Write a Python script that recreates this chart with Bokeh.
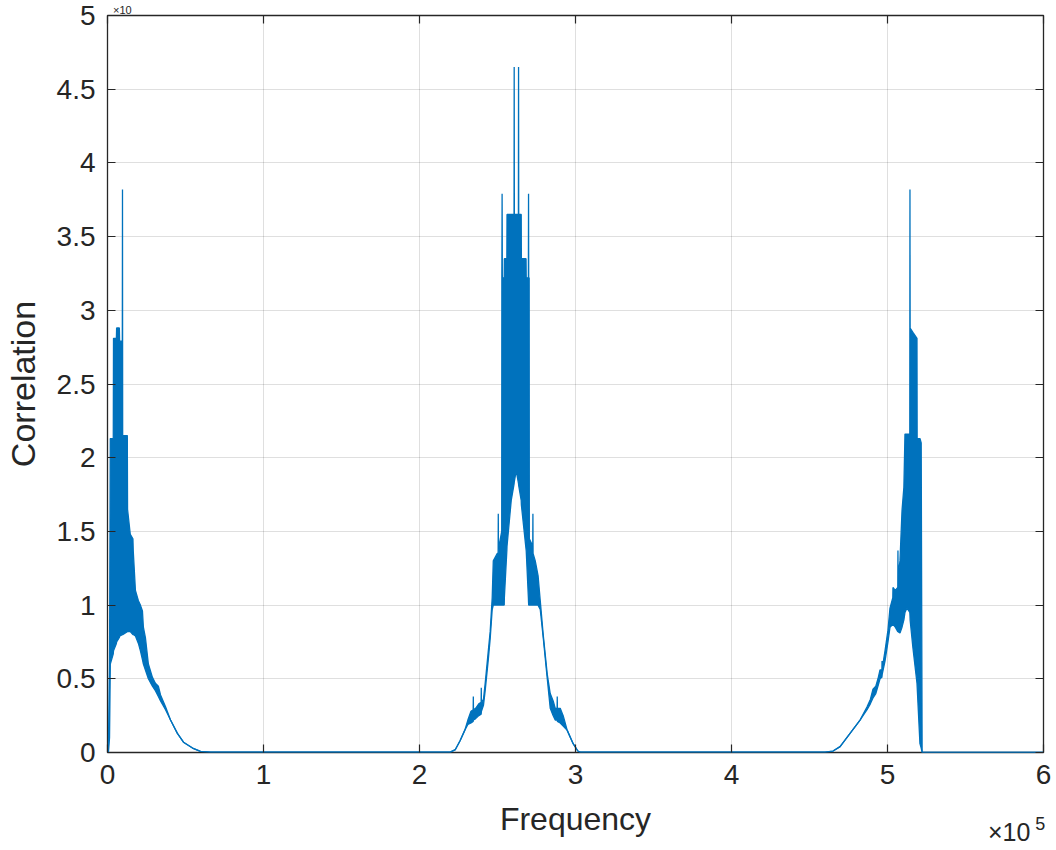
from bokeh.plotting import figure
from bokeh.models import FixedTicker, LinearAxis, ColumnDataSource
from bokeh.embed import file_html
from bokeh.resources import INLINE

# ---- data (frequency in Hz, correlation in axis units) ----
freq = [
    0, 600, 1300, 1800, 3700, 3850, 5700, 5850, 7600, 7750, 9500, 9610, 9720,
    12700, 12850, 14600, 16300, 16500, 17900, 19800, 21100, 22400, 23000, 24300,
    26200, 28800, 30700, 32600, 34000, 37200, 40400, 44800, 48700, 54500, 59600,
    66000, 140000, 212000,
    219700, 223000, 226000, 229000, 231000, 233000, 234400, 234500, 234600,
    236000, 238000, 239500, 239600, 239700, 241000, 242100, 244100, 245300,
    246600, 247300, 249800, 250400, 250500, 250600, 252700, 252800, 252950,
    253100, 254300, 254400, 256000, 256100, 258800, 260600, 260700, 260800,
    262000, 263400, 263500, 263600, 265200, 265300, 268300, 268400, 269800,
    269900, 270000, 270300, 270400, 272600, 272700, 272800, 274200, 276000,
    277400, 279300, 281900, 283800, 285700, 287000, 288200, 288300, 288400,
    290200, 292100, 294700, 298500, 301500, 303000, 380000, 460000,
    465100, 469600, 476000, 482400, 486900, 489000, 490700, 492500, 493900,
    495200, 496400, 496500, 496600, 498400, 500300, 501600, 503400, 503500,
    505000, 506600, 506700, 506800, 508000, 509300, 510500, 511200, 512500,
    514300, 514400, 514500, 516300, 518900, 519000, 520800, 521600, 522200,
    600000,
]
upper = [
    0, 0.05, 0.6, 2.13, 2.13, 2.81, 2.81, 2.88, 2.88, 2.79, 2.79, 3.82, 2.15,
    2.15, 1.65, 1.48, 1.45, 1.37, 1.10, 1.03, 1.00, 0.96, 0.85, 0.78,
    0.60, 0.51, 0.47, 0.45, 0.39, 0.31, 0.22, 0.13, 0.07, 0.03, 0.008,
    0.002, 0.002, 0.002,
    0.003, 0.02, 0.08, 0.15, 0.22, 0.28, 0.29, 0.38, 0.29,
    0.30, 0.33, 0.34, 0.44, 0.34, 0.36, 0.47, 0.69, 0.82,
    1.05, 1.30, 1.35, 1.35, 1.62, 1.38, 1.50, 3.22, 3.79,
    3.22, 3.22, 3.35, 3.35, 3.65, 3.65, 3.65, 4.65, 3.65,
    3.65, 3.65, 4.65, 3.65, 3.65, 3.35, 3.35, 3.22, 3.22,
    3.79, 3.22, 3.22, 1.45, 1.40, 1.62, 1.35, 1.30, 1.20,
    1.03, 0.80, 0.53, 0.40, 0.35, 0.30, 0.30, 0.38, 0.30,
    0.30, 0.25, 0.15, 0.06, 0.01, 0.002, 0.002, 0.002,
    0.01, 0.04, 0.13, 0.22, 0.31, 0.36, 0.43, 0.45, 0.50,
    0.56, 0.56, 0.62, 0.57, 0.69, 0.83, 0.98, 1.05, 1.12,
    1.10, 1.12, 1.37, 1.20, 1.30, 1.64, 1.80, 2.16, 2.16,
    2.16, 3.82, 2.88, 2.85, 2.81, 2.13, 2.13, 2.10, 0.0,
    0.0,
]
lower = [
    0, 0.0, 0.1, 0.6, 0.67, 0.69, 0.74, 0.75, 0.78, 0.79, 0.80, 0.80, 0.80,
    0.82, 0.82, 0.82, 0.80, 0.80, 0.79, 0.74, 0.69, 0.63, 0.60, 0.56,
    0.50, 0.45, 0.42, 0.38, 0.35, 0.29, 0.22, 0.13, 0.07, 0.03, 0.008,
    0.002, 0.002, 0.002,
    0.003, 0.02, 0.08, 0.15, 0.19, 0.20, 0.21, 0.22, 0.22,
    0.23, 0.25, 0.26, 0.27, 0.28, 0.32, 0.42, 0.63, 0.77,
    0.97, 1.00, 1.00, 1.00, 1.00, 1.00, 1.00, 1.00, 1.00,
    1.00, 1.00, 1.05, 1.37, 1.40, 1.71, 1.82, 1.83, 1.84,
    1.91, 1.83, 1.82, 1.81, 1.71, 1.68, 1.38, 1.37, 1.05,
    1.02, 1.00, 1.00, 1.00, 1.00, 1.00, 1.00, 1.00, 1.00,
    0.97, 0.78, 0.50, 0.30, 0.25, 0.22, 0.22, 0.22, 0.21,
    0.20, 0.18, 0.15, 0.06, 0.01, 0.002, 0.002, 0.002,
    0.01, 0.04, 0.13, 0.22, 0.29, 0.33, 0.37, 0.40, 0.45,
    0.50, 0.51, 0.52, 0.53, 0.62, 0.75, 0.85, 0.87, 0.87,
    0.85, 0.82, 0.82, 0.82, 0.81, 0.85, 0.90, 0.95, 0.98,
    0.95, 0.93, 0.90, 0.71, 0.47, 0.45, 0.06, 0.03, 0.0,
    0.0,
]

x_ticks = [0, 100000, 200000, 300000, 400000, 500000, 600000]
x_tick_labels = ["0", "1", "2", "3", "4", "5", "6"]
y_ticks = [0, 0.5, 1, 1.5, 2, 2.5, 3, 3.5, 4, 4.5, 5]
y_tick_labels = ["0", "0.5", "1", "1.5", "2", "2.5", "3", "3.5", "4", "4.5", "5"]

x_label = "Frequency"
y_label = "Correlation"
x_label_pos = 300000
x_exp_base, x_exp_power = "\u00d710", "5"
x_exp_base_pos, x_exp_power_pos = 578000, 598000
y_exp_text = "\u00d710"
y_exp_pos = 9500

AX = "#262626"
BLUE = "#0072BD"
FONT = "Liberation Sans"

p = figure(width=1056, height=850, x_range=(0, 600000), y_range=(0, 5),
           output_backend="svg", toolbar_location=None,
           min_border_left=107, min_border_right=13, min_border_top=14,
           min_border_bottom=98, y_axis_label=y_label)
p.background_fill_color = "white"
p.border_fill_color = "white"
p.outline_line_color = AX
p.outline_line_width = 1.3
p.outline_line_alpha = 1.0

xo = dict(zip(x_ticks, x_tick_labels))
yo = dict(zip(y_ticks, y_tick_labels))


def style(ax, ticks, overrides, font_size, tick_len=8):
    ax.ticker = FixedTicker(ticks=ticks)
    ax.major_label_overrides = overrides
    ax.axis_line_color = None
    ax.major_tick_in = tick_len
    ax.major_tick_out = 0
    ax.minor_tick_in = 0
    ax.minor_tick_out = 0
    ax.major_tick_line_color = AX if tick_len else None
    ax.major_tick_line_width = 1.2
    ax.major_label_text_font = FONT
    ax.major_label_text_color = AX
    ax.major_label_text_font_size = font_size
    ax.axis_label_text_font = FONT
    ax.axis_label_text_font_style = "normal"
    ax.axis_label_text_color = AX
    ax.axis_label_text_font_size = "34px"


style(p.xaxis[0], x_ticks, xo, "28px")
style(p.yaxis[0], y_ticks, yo, "28px")
p.xaxis[0].major_label_standoff = 12
p.yaxis[0].major_label_standoff = 12
p.yaxis[0].axis_label_standoff = 12

# box ticks on top and right
top_ax = LinearAxis()
style(top_ax, x_ticks, {t: "" for t in x_ticks}, "0px")
top_ax.major_label_standoff = 0
p.add_layout(top_ax, "above")
right_ax = LinearAxis()
style(right_ax, y_ticks, {t: "" for t in y_ticks}, "0px")
right_ax.major_label_standoff = 0
p.add_layout(right_ax, "right")

# x axis title and x10^5 multiplier, drawn as tick labels of tick-less extra axes
xlab_ax = LinearAxis()
style(xlab_ax, [x_label_pos], {x_label_pos: x_label}, "32px", tick_len=0)
xlab_ax.major_label_standoff = 14
p.add_layout(xlab_ax, "below")

xexp_ax = LinearAxis()
style(xexp_ax, [x_exp_base_pos], {x_exp_base_pos: x_exp_base}, "25px", tick_len=0)
xexp_ax.major_label_standoff = -22
p.add_layout(xexp_ax, "below")

xpow_ax = LinearAxis()
style(xpow_ax, [x_exp_power_pos], {x_exp_power_pos: x_exp_power}, "18px", tick_len=0)
xpow_ax.major_label_standoff = -32
p.add_layout(xpow_ax, "below")

yexp_ax = LinearAxis()
style(yexp_ax, [y_exp_pos], {y_exp_pos: y_exp_text}, "11px", tick_len=0)
yexp_ax.major_label_standoff = 0
p.add_layout(yexp_ax, "above")

for g, t in ((p.xgrid[0], x_ticks), (p.ygrid[0], y_ticks)):
    g.ticker = FixedTicker(ticks=t)
    g.grid_line_color = AX
    g.grid_line_alpha = 0.15
    g.grid_line_width = 1

src = ColumnDataSource(dict(f=freq, u=upper, l=lower))
p.varea(x="f", y1="l", y2="u", source=src, fill_color=BLUE, fill_alpha=1.0)
p.line("f", "u", source=src, line_color=BLUE, line_width=1.3)
p.line("f", "l", source=src, line_color=BLUE, line_width=1.3)

open("out.html", "w").write(file_html(p, INLINE))
